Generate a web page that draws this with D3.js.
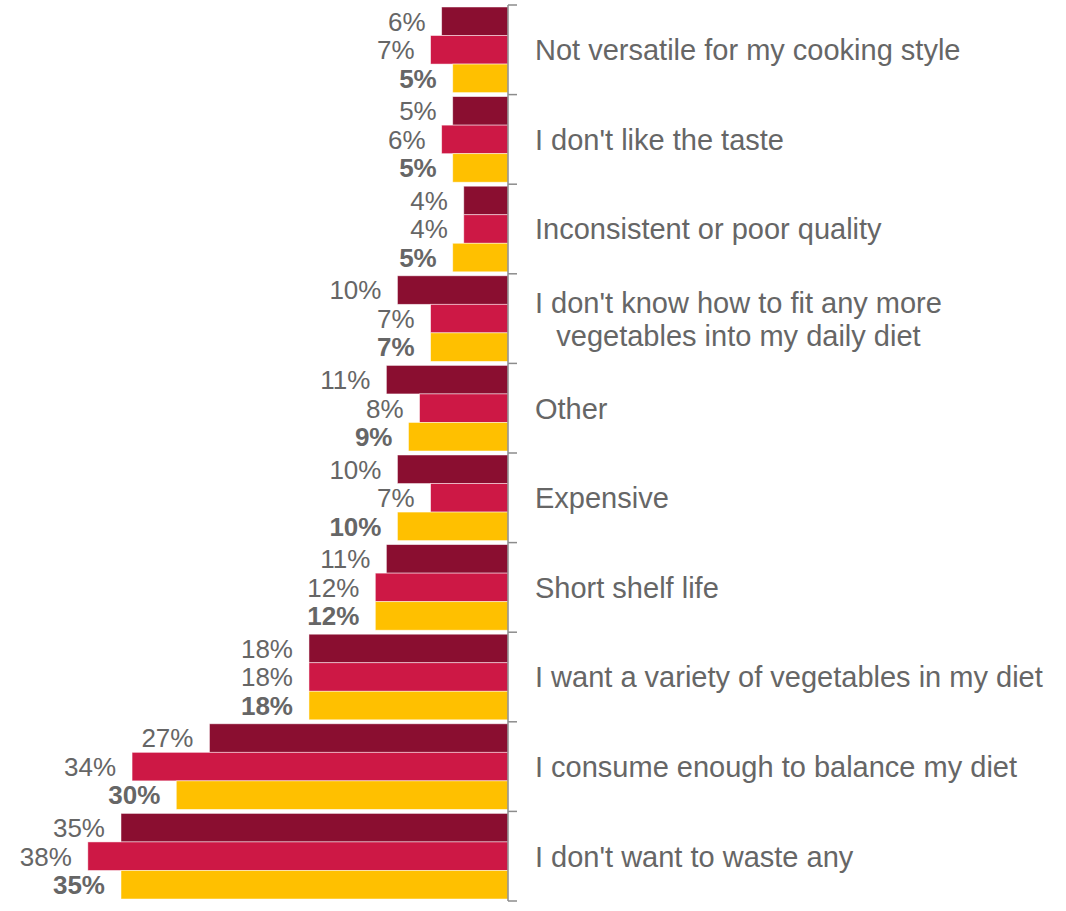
<!DOCTYPE html>
<html>
<head>
<meta charset="utf-8">
<script src="https://cdn.jsdelivr.net/npm/d3@7"></script>
<style>
  html, body { margin: 0; padding: 0; background: #fff; }
  svg { display: block; }
  text { font-family: "Liberation Sans", Arial, Helvetica, sans-serif; }
</style>
</head>
<body>
<svg id="chart" width="1066" height="911"></svg>
<script>
// Reasons, top to bottom
const categories = [
  "Not versatile for my cooking style",
  "I don't like the taste",
  "Inconsistent or poor quality",
  "I don't know how to fit any more\nvegetables into my daily diet",
  "Other",
  "Expensive",
  "Short shelf life",
  "I want a variety of vegetables in my diet",
  "I consume enough to balance my diet",
  "I don't want to waste any"
];

// Three respondent groups (percent)
const seriesA = [6, 5, 4, 10, 11, 10, 11, 18, 27, 35];
const seriesB = [7, 6, 4, 7, 8, 7, 12, 18, 34, 38];
const seriesC = [5, 5, 5, 7, 9, 10, 12, 18, 30, 35];

const seriesNames = ["A", "B", "C"];
const seriesValues = [seriesA, seriesB, seriesC];
const seriesColors = ["#8a0e30", "#cd1845", "#ffc000"];
const seriesBold = [false, false, true];

const svg = d3.select("#chart");
const axisX = 508;
const plotTop = 5, plotBottom = 901;

// value scale grows leftward from the axis
const x = d3.scaleLinear().domain([0, 35]).range([axisX, axisX - 387]);

const y0 = d3.scaleBand().domain(categories).range([plotTop, plotBottom]).paddingInner(0).paddingOuter(0);
const y1 = d3.scaleBand().domain(seriesNames).range([2, y0.bandwidth() - 2]).padding(0);

const rows = categories.map((c, i) => ({
  cat: c,
  items: seriesNames.map((s, j) => ({ s, j, v: seriesValues[j][i] }))
}));

const g = svg.append("g");

const groups = g.selectAll("g.cat").data(rows).join("g")
  .attr("class", "cat")
  .attr("transform", d => `translate(0,${y0(d.cat)})`);

groups.selectAll("rect").data(d => d.items).join("rect")
  .attr("x", d => x(d.v))
  .attr("y", d => y1(d.s))
  .attr("width", d => axisX - x(d.v))
  .attr("height", y1.bandwidth())
  .attr("fill", d => seriesColors[d.j])
  .attr("stroke", "#ffffff")
  .attr("stroke-opacity", 0.6)
  .attr("stroke-width", 0.8);

groups.selectAll("text.val").data(d => d.items).join("text")
  .attr("class", "val")
  .attr("x", d => x(d.v) - 16)
  .attr("y", d => y1(d.s) + y1.bandwidth() / 2)
  .attr("dy", "0.36em")
  .attr("text-anchor", "end")
  .attr("font-size", 26)
  .attr("font-weight", d => seriesBold[d.j] ? "bold" : "normal")
  .attr("fill", "#666666")
  .text(d => d.v + "%");

// vertical axis with boundary ticks pointing right
const axis = g.append("g");
axis.append("line")
  .attr("x1", axisX).attr("x2", axisX)
  .attr("y1", plotTop).attr("y2", plotBottom)
  .attr("stroke", "#8c8c8c").attr("stroke-width", 1.5);
const boundaries = categories.map(c => y0(c)).concat([plotBottom]);
axis.selectAll("line.tick").data(boundaries).join("line")
  .attr("class", "tick")
  .attr("x1", axisX).attr("x2", axisX + 9)
  .attr("y1", d => d).attr("y2", d => d)
  .attr("stroke", "#8c8c8c").attr("stroke-width", 1.5);

// category labels, multi-line ones centred on each other
const labels = g.selectAll("text.cat").data(categories).join("text")
  .attr("class", "cat")
  .attr("font-size", 29)
  .attr("fill", "#666666");

labels.each(function(c) {
  const t = d3.select(this);
  const lines = c.split("\n");
  const cy = y0(c) + y0.bandwidth() / 2;
  const lh = 33;
  if (lines.length === 1) {
    t.attr("x", 535).attr("y", cy).attr("dy", "0.36em").text(c);
  } else {
    const spans = lines.map((l, k) => t.append("tspan")
      .attr("y", cy + (k - (lines.length - 1) / 2) * lh)
      .attr("dy", "0.36em")
      .text(l));
    const widths = spans.map(s => s.node().getComputedTextLength());
    const maxW = d3.max(widths);
    spans.forEach(s => s.attr("x", 535 + maxW / 2).attr("text-anchor", "middle"));
  }
});
</script>
</body>
</html>
